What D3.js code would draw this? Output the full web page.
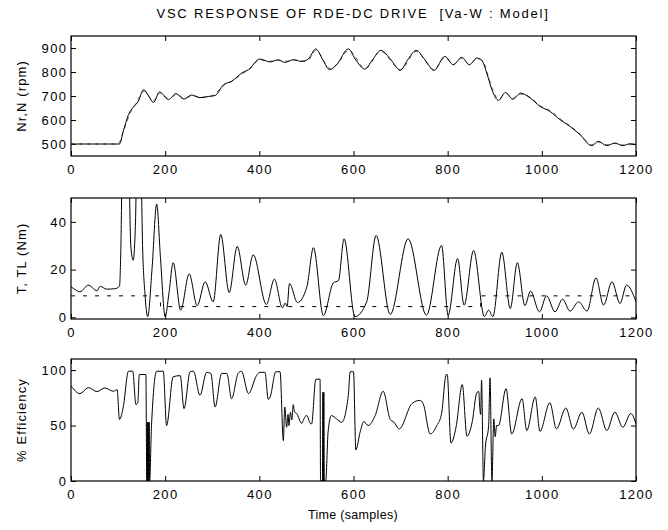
<!DOCTYPE html>
<html>
<head>
<meta charset="utf-8">
<script src="https://d3js.org/d3.v7.min.js"></script>
<style>
body { margin: 0; background: #fff; }
text { font-family: "Liberation Sans", Arial, sans-serif; }
</style>
</head>
<body>
<div id="main"></div>
<script>
// speed (rpm): N measured (solid), Nr reference (dashed)
var nX = [0,103,111,122,133,143,154,165,175,188,207,223,240,256,274,292,306,324,341,363,377,401,423,440,454,472,490,504,520,535,549,564,589,605,624,640,658,680,699,715,733,752,771,794,812,830,846,862,872,883,894,908,923,938,955,975,996,1017,1039,1060,1081,1106,1120,1138,1155,1172,1187,1200];
var nY = [500,500,553,622,655,678,726,700,673,717,685,710,687,704,693,698,702,747,761,796,810,854,842,851,840,851,844,854,896,850,810,830,896,850,812,850,890,850,807,850,890,850,807,865,830,861,830,858,850,796,726,682,715,687,712,692,657,636,601,573,539,493,511,493,504,493,501,498];
var nrX = [0,100,110,125,140,155,175,190,207,225,240,260,280,300,325,345,365,380,400,425,445,460,475,495,505,520,550,565,590,625,658,700,733,771,794,812,830,846,862,875,885,895,908,923,938,955,975,996,1017,1039,1060,1081,1106,1120,1138,1155,1172,1200];
var nrY = [500,500,545,625,675,720,680,712,690,705,692,700,695,702,745,765,795,812,850,845,848,845,850,846,852,890,815,832,890,815,885,810,885,810,860,832,858,832,855,845,790,730,688,712,690,708,695,660,640,605,575,542,497,508,497,502,496,500];

// torque (Nm): T motor (solid), TL load (dashed, steps)
var tX = [0,10,19,37,55,62,76,93,103,106,110,122,127,132,137,141,148,152,157,163,172,182,190,200,208,217,233,251,268,285,302,318,336,353,371,387,415,432,449,455,459,464,481,501,515,536,557,568,580,603,628,648,678,716,755,787,801,821,835,855,878,887,896,915,933,948,964,976,995,1010,1028,1044,1060,1078,1096,1115,1131,1149,1166,1180,1200];
var tY = [12.8,11.5,10.7,13.5,11.1,13,11.8,12,13,30,80,70,30,23.9,40,80,70,30,10,0.3,20,47.5,25,0.3,10,22.9,3,18.2,4.9,14.9,6.5,34.7,10.4,29.7,13.5,26.2,5.4,16,4,6,4.5,14.2,6.2,12.8,29.2,0.7,14.4,15.4,32.9,0.3,6.5,34.3,1.2,32.9,0.9,30.1,0.9,24.6,5.1,28,0.3,3,0.3,27.3,3.7,22.9,4.9,11,2.3,9,2.3,7.6,2.6,6.5,2.6,16.5,5.1,14.9,5.8,13.5,6.5];
var tlX = [0,190,870,1200];
var tlY = [9,4.5,9,9];

// efficiency (%)
var eX = [0,19,37,55,72,90,98,103,111,122,131,138,142,145,159,161,162,163,164,165,166,167,171,182,196,203,217,232,240,253,260,274,288,297,306,320,331,341,355,362,377,394,401,412,419,423,435,444,451,454,458,461,463,466,469,472,475,479,490,497,501,508,511,520,529,530,534,535,536,537,538,541,546,553,564,575,589,593,600,605,614,622,631,646,663,678,686,697,724,741,748,763,777,787,797,799,807,818,831,841,852,862,866,868,870,872,876,880,887,890,894,898,901,904,908,924,936,958,968,986,996,1017,1031,1051,1067,1085,1101,1120,1138,1155,1172,1189,1200];
var eY = [85.8,78.8,84.2,80.6,83.9,80.9,82.4,55.5,66.7,99,99,68.8,71,96,96,0,53,0,53,0,53,0,50,99,99,50,94,95,65.2,98.5,99,77.3,98,97,66.7,97,97,74.2,97,99,78.8,95,98,98,73.6,75.8,98.5,98.5,36.4,66.7,48.5,60,50,62,55,68.8,62,61,52,58,59,52,51.5,91.8,91.8,0,0,80,0,80,0,0,44,59,56,53,77.3,98.5,98.5,28,44,53.6,50,59,80.9,55.5,53,47,69.7,72.7,69.7,42.4,50,60.6,96,96,34.2,49,87,40.3,53,79.7,80.6,67,60,91,0,30,50,93,0,56,40,50,50,83.3,42.4,74.2,45.5,75.8,44.8,70.6,47,65.8,46.7,62.1,42.4,65.8,45.5,62.1,48.5,60.9,51.5];

var xTicks = [0,200,400,600,800,1000,1200];

var width = 668, height = 530;
var left = 71, right = 636;

var svg = d3.select("#main").append("svg")
    .attr("width", width)
    .attr("height", height)
    .style("background", "#fff");

var x = d3.scaleLinear().domain([0, 1200]).range([left, right]);

svg.append("text")
    .attr("x", 353).attr("y", 18)
    .attr("text-anchor", "middle")
    .style("font-size", "13px")
    .style("letter-spacing", "1.8px")
    .style("white-space", "pre")
    .text("VSC RESPONSE OF RDE-DC DRIVE  [Va-W : Model]");

function panel(id, top, bottom, ydom, yticks, label) {
  var y = d3.scaleLinear().domain(ydom).range([bottom, top]);
  var g = svg.append("g");

  g.append("clipPath").attr("id", "clip" + id)
    .append("rect")
      .attr("x", left).attr("y", top)
      .attr("width", right - left).attr("height", bottom - top);

  // axes: ticks inside on all four sides
  g.append("g")
      .attr("transform", "translate(0," + bottom + ")")
      .call(d3.axisBottom(x).tickValues(xTicks).tickFormat(d3.format("d"))
        .tickSizeInner(-5).tickSizeOuter(0).tickPadding(9));
  g.append("g")
      .attr("transform", "translate(0," + top + ")")
      .call(d3.axisTop(x).tickValues(xTicks).tickSizeInner(-5).tickSizeOuter(0).tickFormat(""));
  g.append("g")
      .attr("transform", "translate(" + left + ",0)")
      .call(d3.axisLeft(y).tickValues(yticks).tickSizeInner(-5).tickSizeOuter(0).tickPadding(3.5));
  g.append("g")
      .attr("transform", "translate(" + right + ",0)")
      .call(d3.axisRight(y).tickValues(yticks).tickSizeInner(-5).tickSizeOuter(0).tickFormat(""));

  g.selectAll(".tick text").style("font-size", "13px")
      .style("letter-spacing", "1.4px")
      .style("font-family", '"Liberation Sans", Arial, sans-serif');
  g.selectAll(".domain").remove();
  g.selectAll(".tick line").attr("stroke", "#000");

  g.append("rect")
      .attr("x", left).attr("y", top)
      .attr("width", right - left).attr("height", bottom - top)
      .attr("fill", "none").attr("stroke", "#000").attr("stroke-width", 1.2);

  g.append("text")
      .attr("transform", "translate(25.5," + ((top + bottom) / 2) + ") rotate(-90)")
      .attr("text-anchor", "middle")
      .style("font-size", "13px")
      .style("letter-spacing", "1.1px")
      .text(label);

  return { g: g, y: y, clip: "url(#clip" + id + ")" };
}

function drawLine(p, xs, ys, curve, dash, color) {
  var pts = xs.map(function(d, i) { return [d, ys[i]]; });
  var line = d3.line()
      .x(function(d) { return x(d[0]); })
      .y(function(d) { return p.y(d[1]); })
      .curve(curve);
  p.g.append("path")
      .datum(pts)
      .attr("clip-path", p.clip)
      .attr("fill", "none")
      .attr("stroke", color)
      .attr("stroke-width", 1)
      .attr("stroke-dasharray", dash)
      .attr("d", line);
}

var p1 = panel(1, 36, 156, [450, 950], [500,600,700,800,900], "Nr,N (rpm)");
drawLine(p1, nrX, nrY, d3.curveMonotoneX, "4,4", "#666");
drawLine(p1, nX, nY, d3.curveMonotoneX, null, "#000");

var p2 = panel(2, 198, 319, [-0.7, 50], [0,20,40], "T, TL (Nm)");
drawLine(p2, tlX, tlY, d3.curveStepAfter, "4,8", "#000");
drawLine(p2, tX, tY, d3.curveMonotoneX, null, "#000");

var p3 = panel(3, 359, 481, [0, 110], [0,50,100], "% Efficiency");
drawLine(p3, eX, eY, d3.curveMonotoneX, null, "#000");

svg.append("text")
    .attr("x", 353).attr("y", 519)
    .attr("text-anchor", "middle")
    .style("font-size", "12.5px")
    .style("letter-spacing", "0.3px")
    .text("Time (samples)");
</script>
</body>
</html>
